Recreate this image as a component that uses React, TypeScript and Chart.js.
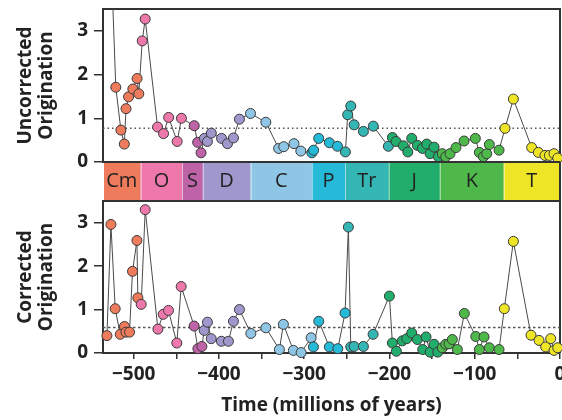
import React, { useEffect, useRef } from 'react';
import { Chart, registerables } from 'chart.js';

Chart.register(...registerables);

// ---- data ----
const uncorrectedTime = [
  -526, -521, -515, -511, -509, -506, -501, -496, -494, -490, -486.5,
  -472, -465, -459, -449, -444, -429, -425, -421, -417, -413.5, -409,
  -397, -390, -383, -376, -363, -345, -330, -324, -312, -304, -291, -289,
  -283, -270.5, -261, -251.7, -249, -245.4, -241.5, -230.6, -219, -201.3,
  -196.6, -192.3, -183.7, -178.5, -173.9, -167.3, -161.4, -156.3, -152.4,
  -147.7, -142.7, -138, -134, -129, -122, -112.5, -99.3, -94.6, -89.9,
  -85.9, -82.9, -71.5, -64.5, -54.7, -33.2, -25.4, -17.6, -12.5, -7, -2.7,
];
const uncorrectedValue = [
  4.4, 1.71, 0.73, 0.41, 1.22, 1.49, 1.67, 1.91, 1.56, 2.77, 3.27,
  0.8, 0.65, 1.02, 0.47, 1.0, 0.83, 0.45, 0.21, 0.54, 0.47, 0.66,
  0.54, 0.42, 0.55, 0.98, 1.11, 0.91, 0.31, 0.35, 0.42, 0.25, 0.21, 0.27,
  0.54, 0.44, 0.36, 0.23, 1.08, 1.28, 0.85, 0.7, 0.82, 0.36,
  0.56, 0.47, 0.37, 0.23, 0.54, 0.38, 0.31, 0.41, 0.19,
  0.34, 0.12, 0.19, 0.12, 0.19, 0.33, 0.48, 0.54, 0.22, 0.12,
  0.19, 0.4, 0.27, 0.77, 1.44, 0.33, 0.22, 0.15, 0.15, 0.19, 0.09,
];
const correctedTime = [
  -531.4, -526.7, -521.7, -515.8, -510.8, -509.1, -504.9, -501.4, -496.2,
  -495.1, -491.2, -486.5, -471.6, -465.4, -459.2, -449.4, -444.3, -429.1,
  -424.7, -420, -417.3, -413.5, -409.1, -397.1, -388.9, -383, -376, -362.6,
  -345, -329.1, -324.4, -312.7, -303.6, -291.9, -289.2, -282.9, -270.5,
  -260.6, -252.1, -248.2, -245.4, -241.5, -230.6, -219.2, -200.1, -196.6,
  -191.9, -184.9, -179.7, -173.9, -167.3, -161, -157.1, -152.4, -147.7,
  -143.4, -138, -134, -130.1, -126.3, -120.4, -112.2, -98.8, -94.6, -89.1,
  -82.9, -71.5, -65.3, -54.7, -34, -24.6, -16.8, -10.9, -7, -2.7,
];
const correctedValue = [
  0.4, 2.96, 1.02, 0.43, 0.61, 0.48, 0.48, 1.88, 2.59,
  1.27, 1.12, 3.3, 0.55, 0.89, 0.98, 0.23, 1.53, 0.62,
  0.1, 0.15, 0.52, 0.71, 0.33, 0.27, 0.27, 0.73, 1.0, 0.45,
  0.58, 0.08, 0.66, 0.06, 0.01, 0.35, 0.14, 0.73, 0.14,
  0.1, 0.92, 2.9, 0.14, 0.15, 0.15, 0.43, 1.31, 0.23,
  0.04, 0.28, 0.33, 0.46, 0.31, 0.08, 0.37, 0.02, 0.2,
  0.02, 0.12, 0.2, 0.21, 0.31, 0.08, 0.91, 0.38, 0.08, 0.37,
  0.12, 0.08, 1.02, 2.57, 0.41, 0.29, 0.14, 0.33, 0.06, 0.12,
];
const uncorrectedMean = 0.77;
const correctedMean = 0.59;

const periodNames = ['Cm', 'O', 'S', 'D', 'C', 'P', 'Tr', 'J', 'K', 'T'];
const periodStart = [-545, -492, -443, -419, -363, -291, -252, -201, -141, -66];
const periodEnd = [-492, -443, -419, -363, -291, -252, -201, -141, -66, 0];
const periodColors = [
  '#EE7B5B', '#EE78AC', '#BE63A8', '#A097CC', '#8FC6E5',
  '#25BAD8', '#33B6B4', '#21AE6C', '#4FB84A', '#EEE526',
];

const xTicks = [-500, -450, -400, -350, -300, -250, -200, -150, -100, -50, 0];
const yTicks = [0, 1, 2, 3];
const X_MIN = -536;
const X_MAX = 0;
const Y_MAX = 3.5;

// ---- styling ----
const FONT = '"Open Sans", "DejaVu Sans", sans-serif';
const AXIS = '#333333';
const TEXT = '#222222';

const colorFor = (t: number) => {
  for (let i = 0; i < periodNames.length; i++) {
    if (t >= periodStart[i] && t < periodEnd[i]) return periodColors[i];
  }
  return periodColors[periodColors.length - 1];
};

const framePlugin = {
  id: 'frame',
  beforeDatasetsDraw(chart: any) {
    const { ctx, chartArea: a } = chart;
    ctx.save();
    ctx.strokeStyle = AXIS;
    ctx.lineWidth = 2;
    ctx.beginPath();
    ctx.moveTo(a.left, a.top);
    ctx.lineTo(a.right, a.top);
    ctx.lineTo(a.right, a.bottom);
    ctx.stroke();
    ctx.restore();
  },
};

const bandPlugin = {
  id: 'band',
  afterDraw(chart: any) {
    const { ctx, chartArea: a } = chart;
    const x = chart.scales.x;
    const top = a.bottom;
    const bottom = chart.height;
    ctx.save();
    periodNames.forEach((name, i) => {
      const x0 = Math.max(a.left + 1, x.getPixelForValue(periodStart[i]));
      const x1 = Math.min(a.right, x.getPixelForValue(periodEnd[i]));
      ctx.fillStyle = periodColors[i];
      ctx.fillRect(x0, top, x1 - x0, bottom - top);
    });
    ctx.strokeStyle = 'rgba(255,255,255,0.45)';
    ctx.lineWidth = 1;
    for (let i = 1; i < periodNames.length; i++) {
      const px = Math.round(x.getPixelForValue(periodStart[i])) + 0.5;
      ctx.beginPath();
      ctx.moveTo(px, top + 1);
      ctx.lineTo(px, bottom);
      ctx.stroke();
    }
    ctx.fillStyle = TEXT;
    ctx.font = `20px ${FONT}`;
    ctx.textAlign = 'center';
    ctx.textBaseline = 'middle';
    periodNames.forEach((name, i) => {
      const x0 = Math.max(a.left, x.getPixelForValue(periodStart[i]));
      const x1 = Math.min(a.right, x.getPixelForValue(periodEnd[i]));
      ctx.fillText(name, (x0 + x1) / 2, (top + bottom) / 2);
    });
    ctx.strokeStyle = AXIS;
    ctx.lineWidth = 2;
    ctx.beginPath();
    ctx.moveTo(a.left - 1, top);
    ctx.lineTo(a.right, top);
    ctx.moveTo(a.right, top);
    ctx.lineTo(a.right, bottom);
    ctx.stroke();
    ctx.restore();
  },
};

function buildConfig(kind: 'top' | 'bottom'): any {
  const isTop = kind === 'top';
  const times = isTop ? uncorrectedTime : correctedTime;
  const values = isTop ? uncorrectedValue : correctedValue;
  const mean = isTop ? uncorrectedMean : correctedMean;
  const tickFont = { family: FONT, size: 19, weight: 'bold' as const };

  return {
    type: 'scatter',
    data: {
      datasets: [
        {
          data: times.map((t, i) => ({ x: t, y: values[i] })),
          showLine: true,
          borderColor: '#4a4a4a',
          borderWidth: 1,
          pointRadius: 5,
          pointBackgroundColor: times.map(colorFor),
          pointBorderColor: '#3a3a3a',
          pointBorderWidth: 1,
          clip: { left: 8, right: 8, top: 0, bottom: 8 },
          order: 1,
        },
        {
          data: [
            { x: X_MIN, y: mean },
            { x: X_MAX, y: mean },
          ],
          showLine: true,
          borderColor: '#555555',
          borderWidth: 1.5,
          borderDash: isTop ? [1.5, 3] : [2.5, 2.5],
          pointRadius: 0,
          order: 2,
        },
      ],
    },
    options: {
      animation: false,
      responsive: false,
      maintainAspectRatio: false,
      events: [],
      layout: {
        autoPadding: false,
        padding: { top: isTop ? 9 : 1, right: 2, left: 0, bottom: 0 },
      },
      plugins: { legend: { display: false }, tooltip: { enabled: false } },
      scales: {
        x: isTop
          ? {
              type: 'linear',
              min: X_MIN,
              max: X_MAX,
              afterBuildTicks: (s: any) => {
                s.ticks = xTicks.map((v) => ({ value: v }));
              },
              afterFit: (s: any) => {
                s.height = 38;
                s.paddingLeft = 0;
                s.paddingRight = 0;
              },
              ticks: { display: false },
              grid: { display: false },
              border: { display: false },
            }
          : {
              type: 'linear',
              min: X_MIN,
              max: X_MAX,
              afterBuildTicks: (s: any) => {
                s.ticks = xTicks.map((v) => ({ value: v }));
              },
              afterFit: (s: any) => {
                s.height = 67;
                s.paddingLeft = 0;
                s.paddingRight = 0;
              },
              ticks: {
                autoSkip: false,
                maxRotation: 0,
                padding: 4,
                font: tickFont,
                color: TEXT,
                callback: (v: number) =>
                  v % 100 === 0 ? (v < 0 ? '\u2212' + Math.abs(v) : String(v)) : '',
              },
              grid: {
                display: true,
                drawOnChartArea: false,
                drawTicks: true,
                tickLength: 6,
                color: AXIS,
                lineWidth: 1.5,
              },
              border: { display: true, color: AXIS, width: 2 },
              title: {
                display: true,
                text: 'Time (millions of years)',
                font: { family: FONT, size: 19, weight: 'bold', lineHeight: 1.2 },
                color: TEXT,
                padding: { top: 0, bottom: 3 },
              },
            },
        y: {
          type: 'linear',
          min: 0,
          max: Y_MAX,
          afterBuildTicks: (s: any) => {
            s.ticks = yTicks.map((v) => ({ value: v }));
          },
          afterFit: (s: any) => {
            s.width = 103;
            s.paddingTop = 0;
            s.paddingBottom = 0;
          },
          ticks: { font: tickFont, color: TEXT, padding: 6 },
          grid: {
            display: true,
            drawOnChartArea: false,
            drawTicks: true,
            tickLength: 9,
            color: AXIS,
            lineWidth: 1.5,
          },
          border: { display: true, color: AXIS, width: 2 },
          title: {
            display: true,
            text: isTop ? ['Uncorrected', 'Origination'] : ['Corrected', 'Origination'],
            font: { family: FONT, size: 19, weight: 'bold', lineHeight: 1.13 },
            color: TEXT,
            padding: { top: 14.5, bottom: 0 },
          },
        },
      },
    },
    plugins: isTop ? [framePlugin, bandPlugin] : [framePlugin],
  };
}

export default function App() {
  const topRef = useRef<HTMLCanvasElement>(null);
  const bottomRef = useRef<HTMLCanvasElement>(null);

  useEffect(() => {
    const c1 = new Chart(topRef.current as HTMLCanvasElement, buildConfig('top'));
    const c2 = new Chart(bottomRef.current as HTMLCanvasElement, buildConfig('bottom'));
    return () => {
      c1.destroy();
      c2.destroy();
    };
  }, []);

  return (
    <div
      style={{
        position: 'fixed',
        left: 0,
        top: 0,
        width: 562,
        height: 420,
        background: '#ffffff',
        overflow: 'hidden',
      }}
    >
      <canvas
        ref={topRef}
        width={562}
        height={200}
        style={{ position: 'absolute', left: 0, top: 0, width: 562, height: 200 }}
      />
      <canvas
        ref={bottomRef}
        width={562}
        height={220}
        style={{ position: 'absolute', left: 0, top: 200, width: 562, height: 220 }}
      />
    </div>
  );
}
